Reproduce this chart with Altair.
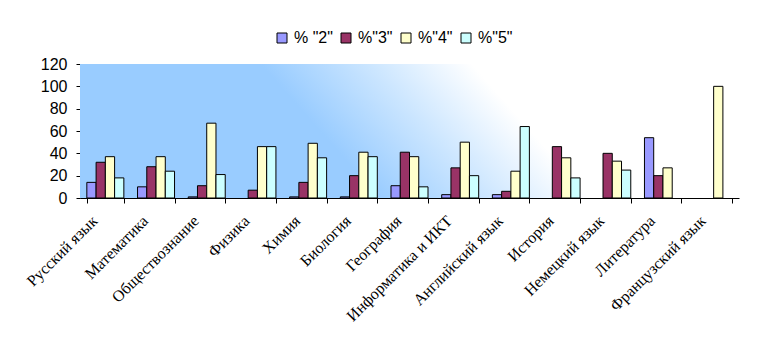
import altair as alt
import pandas as pd

subjects = ["Русский язык", "Математика", "Обществознание", "Физика", "Химия",
            "Биология", "География", "Информатика и ИКТ", "Английский язык",
            "История", "Немецкий язык", "Литература", "Французский язык"]
series = ['% "2"', '%"3"', '%"4"', '%"5"']
pct2 = [14, 10, 1, 0, 1, 1, 11, 3, 3, 0, 0, 54, 0]
pct3 = [32, 28, 11, 7, 14, 20, 41, 27, 6, 46, 40, 20, 0]
pct4 = [37, 37, 67, 46, 49, 41, 37, 50, 24, 36, 33, 27, 100]
pct5 = [18, 24, 21, 46, 36, 37, 10, 20, 64, 18, 25, 0, 0]
colors = ["#9999FF", "#993366", "#FFFFCC", "#CCFFFF"]
y_ticks = [0, 20, 40, 60, 80, 100, 120]

rows = []
for i, s in enumerate(subjects):
    for name, vals in zip(series, [pct2, pct3, pct4, pct5]):
        rows.append({"subject": s, "series": name, "value": vals[i]})
df = pd.DataFrame(rows)

W, H = 659, 134

bg = alt.Chart(alt.Data(values=[{}])).mark_rect(
    fill=alt.Gradient(
        gradient="linear", x1=0, y1=1, x2=1, y2=0.82,
        stops=[
            alt.GradientStop(color="#99CCFF", offset=0),
            alt.GradientStop(color="#99CCFF", offset=0.44),
            alt.GradientStop(color="#CCE6FF", offset=0.6),
            alt.GradientStop(color="#FFFFFF", offset=0.75),
            alt.GradientStop(color="#FFFFFF", offset=1),
        ],
    )
).encode(x=alt.value(0), x2=alt.value("width"), y=alt.value(0), y2=alt.value("height"))

bars = alt.Chart(df).transform_filter("datum.value > 0").mark_bar(
    stroke="black", strokeWidth=1
).encode(
    x=alt.X("subject:N", sort=subjects,
            scale=alt.Scale(domain=subjects, paddingInner=0.27, paddingOuter=0.135),
            axis=alt.Axis(title=None, labelAngle=-45, labelAlign="right",
                          labelBaseline="middle", labelFont="Liberation Serif",
                          labelFontSize=16, labelColor="black", tickBand="extent",
                          tickSize=5, tickColor="black", domainColor="black",
                          labelPadding=15, labelOffset=-11)),
    xOffset=alt.XOffset("series:N", scale=alt.Scale(domain=series, paddingInner=0, paddingOuter=0)),
    y=alt.Y("value:Q", scale=alt.Scale(domain=[0, 120], nice=False),
            axis=alt.Axis(title=None, values=y_ticks, grid=False, labelFont="Liberation Sans",
                          labelFontSize=16, labelColor="black", tickSize=4,
                          tickColor="black", domainColor="black", labelPadding=9)),
    color=alt.Color("series:N", scale=alt.Scale(domain=series, range=colors),
                    legend=alt.Legend(title=None, orient="none", legendX=194, legendY=-34,
                                      direction="horizontal", labelFont="Liberation Sans",
                                      labelFontSize=16, labelColor="black", symbolType="square",
                                      symbolSize=100, symbolStrokeColor="black",
                                      symbolStrokeWidth=1, columnPadding=5, labelOffset=4)),
)

chart = alt.layer(bg, bars).properties(
    width=W, height=H,
    padding={"left": 80, "top": 64, "right": 18, "bottom": 155},
    autosize="none",
    background="white",
).configure_view(stroke=None)

chart.save("out.html", embed_options={"renderer": "svg", "actions": False})
